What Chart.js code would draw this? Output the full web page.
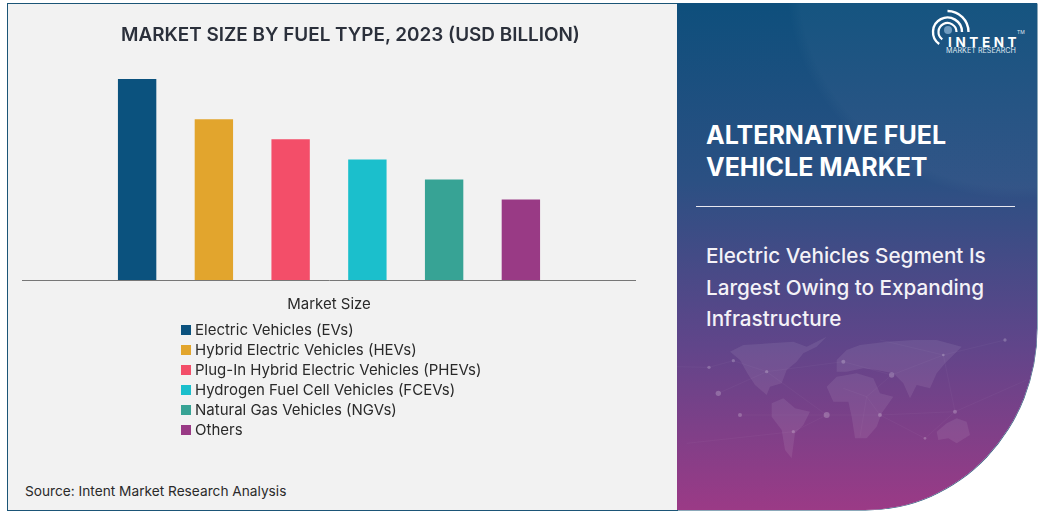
<!DOCTYPE html>
<html>
<head>
<meta charset="utf-8">
<title>Alternative Fuel Vehicle Market</title>
<script src="https://cdn.jsdelivr.net/npm/chart.js@4"></script>
<style>
html, body { margin: 0; padding: 0; background: #fff; }
body { width: 1043px; height: 513px; position: relative; overflow: hidden; font-family: Inter, sans-serif; }
#leftPanel { position: absolute; left: 7px; top: 3px; width: 670px; height: 506px; background: #f2f2f2; border: 1px solid #1b5577; border-right: 0; }
#rightPanel { position: absolute; left: 677px; top: 3px; width: 360px; height: 507px; background: radial-gradient(ellipse 320px 300px at 340px -20px, rgba(255,255,255,0.03) 0%, rgba(255,255,255,0.03) 68%, rgba(255,255,255,0) 72%), linear-gradient(180deg, #0e4f7c 0%, #2b5083 35%, #61458a 68%, #9b3a86 100%); border-bottom-right-radius: 172px 182px; overflow: hidden; box-shadow: 0.5px 0.5px 0 #1b5577; }
#chartBox { position: absolute; left: 22px; top: 0; width: 614px; height: 330px; }
#chartTitle { position: absolute; left: 22px; width: 657px; top: 22px; text-align: center; font-size: 18.9px; line-height: 26px; font-weight: 600; color: #2b303b; white-space: nowrap; }
#legend { position: absolute; left: 181px; top: 320px; }
.row { height: 20px; line-height: 20px; font-size: 15px; color: #2a2a2a; white-space: nowrap; }
.row i { display: inline-block; width: 10px; height: 10px; margin-right: 4px; }
#source { position: absolute; left: 25px; top: 483px; font-size: 13.7px; color: #2a2a2a; white-space: nowrap; }
#map { position: absolute; left: 660px; top: 330px; }
#heading { position: absolute; left: 706px; top: 119px; font-size: 25px; line-height: 32px; font-weight: 700; color: #fff; }
#rule { position: absolute; left: 696px; top: 206px; width: 319px; height: 1px; background: #e8e8f0; }
#sub { position: absolute; left: 706px; top: 240px; font-size: 20.7px; line-height: 31.5px; font-weight: 500; color: #f4f2f7; }
#logo { position: absolute; left: 925px; top: 8px; }
#logoName { position: absolute; left: 948px; top: 33px; font-size: 13.5px; line-height: 18px; font-weight: 700; letter-spacing: 3.6px; color: #fff; }
#logoSub { position: absolute; left: 946px; top: 46px; font-size: 7.2px; line-height: 10px; color: #dfe8f0; white-space: nowrap; }
#logoTm { position: absolute; left: 1017px; top: 29px; font-size: 5px; line-height: 6px; color: #dfe8f0; }
</style>
</head>
<body>
<div id="leftPanel"></div>
<div id="rightPanel"></div>
<svg id="map" width="383" height="183" viewBox="0 0 1149 549">
  <g fill="#fff" fill-opacity="0.08">
    <path d="M210 65 L250 45 L330 40 L400 35 L440 50 L500 20 L470 50 L430 70 L410 95 L380 120 L365 160 L330 170 L320 195 L285 165 L262 130 L240 90 Z"/>
    <path d="M335 220 L370 205 L405 235 L450 245 L430 285 L405 310 L395 385 L375 360 L365 300 L335 260 Z"/>
    <path d="M530 90 L560 60 L600 45 L680 35 L760 30 L830 30 L905 50 L880 75 L855 100 L830 130 L810 175 L770 165 L750 205 L730 160 L700 130 L650 120 L610 115 L560 125 L530 125 Z"/>
    <path d="M500 170 L530 140 L590 130 L640 145 L660 190 L700 200 L665 250 L650 290 L620 325 L585 325 L575 260 L565 215 L520 215 Z"/>
    <path d="M830 305 L860 280 L890 265 L920 275 L930 315 L890 340 L865 325 L835 330 Z"/>
  </g>
  <g stroke="#fff" stroke-opacity="0.1" fill="none">
    <path d="M50 110 L147 112 L220 92 L320 125 L550 95 L695 135 L850 75 L1035 30"/>
    <path d="M175 190 L320 125 L500 255 L660 255 L885 245 L1100 150"/>
    <path d="M240 255 L500 255 L400 305 L80 340"/>
    <path d="M550 175 L620 200 L660 255 L795 325 L885 245"/>
    <path d="M695 135 L620 200 L600 320"/>
    <path d="M660 30 L850 75 L885 245"/>
  </g>
  <g fill="#fff" fill-opacity="0.22">
    <circle cx="147" cy="112" r="5"/><circle cx="220" cy="92" r="5"/><circle cx="175" cy="190" r="8"/>
    <circle cx="240" cy="255" r="6"/><circle cx="320" cy="125" r="5"/><circle cx="500" cy="255" r="9"/>
    <circle cx="400" cy="305" r="5"/><circle cx="550" cy="95" r="6"/><circle cx="695" cy="135" r="8"/>
    <circle cx="850" cy="75" r="4"/><circle cx="660" cy="255" r="6"/><circle cx="885" cy="245" r="6"/>
    <circle cx="795" cy="325" r="4"/><circle cx="1035" cy="30" r="5"/>
  </g>
</svg>
<div id="chartBox"><canvas id="marketChart"></canvas></div>
<div id="chartTitle">MARKET SIZE BY FUEL TYPE, 2023 (USD BILLION)</div>
<div id="legend"></div>
<div id="source">Source: Intent Market Research Analysis</div>
<div id="heading">ALTERNATIVE FUEL<br>VEHICLE MARKET</div>
<div id="rule"></div>
<div id="sub">Electric Vehicles Segment Is<br>Largest Owing to Expanding<br>Infrastructure</div>
<svg id="logo" width="50" height="44" viewBox="0 0 50 44" fill="none" stroke="#fff">
  <path d="M22.5 3 A 21 21 0 0 1 43.5 24" stroke-width="2.4"/>
  <path d="M14.2 35.9 A 14.5 14.5 0 1 1 37 24" stroke-width="2.4"/>
  <path d="M17.3 31.4 A 9 9 0 1 1 31.5 24" stroke-width="2.2"/>
  <circle cx="23" cy="22" r="4" fill="#6f9cc0" stroke="none"/>
</svg>
<div id="logoName">INTENT</div>
<div id="logoTm">TM</div>
<div id="logoSub">MARKET RESEARCH</div>
<script>
var categories = ['Market Size'];
var seriesNames = ['Electric Vehicles (EVs)', 'Hybrid Electric Vehicles (HEVs)', 'Plug-In Hybrid Electric Vehicles (PHEVs)', 'Hydrogen Fuel Cell Vehicles (FCEVs)', 'Natural Gas Vehicles (NGVs)', 'Others'];
var seriesValues = [10, 8, 7, 6, 5, 4];
var seriesColors = ['#0b527e', '#e2a52d', '#f34e69', '#1bbfcc', '#37a395', '#993a85'];

var datasets = seriesNames.map(function (name, i) {
    return { label: name, data: [seriesValues[i]], backgroundColor: seriesColors[i] };
});

// legend is stacked in one column, the built in one would wrap into rows
var legend = document.getElementById('legend');
seriesNames.forEach(function (name, i) {
    var row = document.createElement('div');
    row.className = 'row';
    var box = document.createElement('i');
    box.style.background = seriesColors[i];
    row.appendChild(box);
    row.appendChild(document.createTextNode(name));
    legend.appendChild(row);
});

let chart = new Chart(document.getElementById('marketChart'), {
    type: 'bar',
    data: { labels: categories, datasets: datasets },
    options: {
        responsive: true,
        maintainAspectRatio: false,
        animation: false,
        layout: { padding: { top: 79, bottom: 10 } },
        datasets: { bar: { categoryPercentage: 0.75, barPercentage: 0.5 } },
        plugins: {
            legend: { display: false },
            tooltip: { enabled: false }
        },
        scales: {
            x: {
                grid: { display: false },
                border: { color: '#777', width: 1 },
                ticks: { color: '#2a2a2a', padding: 7, font: { family: 'Inter', size: 15 } }
            },
            y: { display: false, min: 0, max: 10 }
        }
    }
});
</script>
</body>
</html>
